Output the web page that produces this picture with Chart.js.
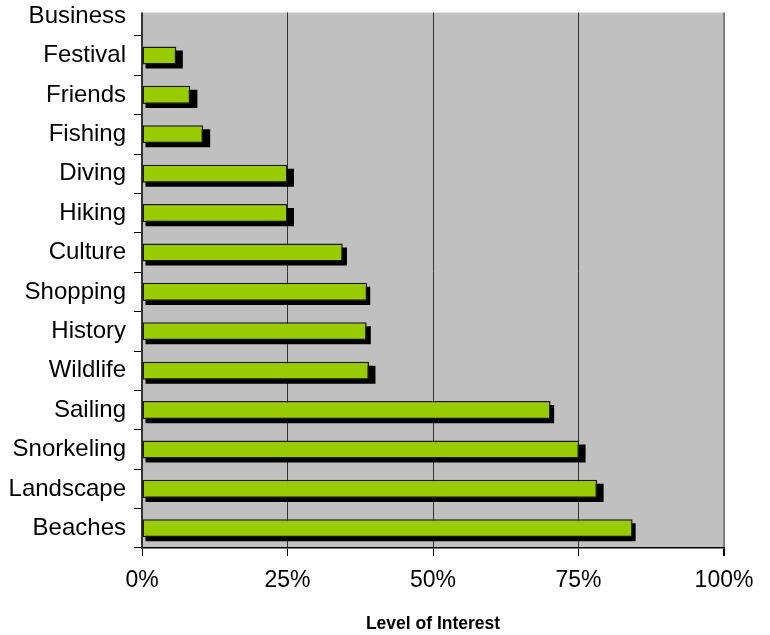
<!DOCTYPE html>
<html>
<head>
<meta charset="utf-8">
<script src="https://cdn.jsdelivr.net/npm/chart.js@4"></script>
<style>
  html, body { margin: 0; padding: 0; background: #ffffff; overflow: hidden; }
  #wrap { position: absolute; left: 0; top: -26px; width: 770px; height: 661px; }
</style>
</head>
<body>
<div id="wrap"><canvas id="chart" width="770" height="661"></canvas></div>
<script>
// categories top to bottom
const activities = ["Business", "Festival", "Friends", "Fishing", "Diving", "Hiking", "Culture",
  "Shopping", "History", "Wildlife", "Sailing", "Snorkeling", "Landscape", "Beaches"];

// level of interest (%)
const interest = [0, 5.9, 8.3, 10.5, 25, 25, 34.5, 38.7, 38.6, 39.0, 70.2, 75.1, 78.2, 84.3];
// black shadow bars behind
const shadowVals = [0, 6.5, 9.0, 11.2, 25.6, 25.6, 34.7, 38.7, 38.8, 39.6, 70.3, 75.7, 78.8, 84.3];

const xTicks = [0, 25, 50, 75, 100];

const FONT = "'Liberation Sans', Arial, sans-serif";
const HIDDEN_TOP = 16; // part of the plot cut off above the picture

// gray plot background
const plotBg = {
  id: "plotBg",
  beforeDraw(chart) {
    const { ctx, chartArea } = chart;
    ctx.save();
    ctx.fillStyle = "#c0c0c0";
    ctx.fillRect(chartArea.left, chartArea.top + HIDDEN_TOP, chartArea.right - chartArea.left, chartArea.bottom - chartArea.top - HIDDEN_TOP);
    ctx.restore();
  },
  afterDraw(chart) {
    const { ctx, chartArea } = chart;
    ctx.save();
    ctx.fillStyle = "#ffffff";
    ctx.fillRect(chartArea.left - 3, chartArea.top - 4, chartArea.right - chartArea.left + 6, HIDDEN_TOP + 4);
    ctx.restore();
  },
};

// shift the shadow dataset a few px right and down
const shadowShift = {
  id: "shadowShift",
  beforeDatasetDraw(chart, args) {
    if (args.index === 1) {
      chart.ctx.save();
      chart.ctx.translate(3, 4);
    }
  },
  afterDatasetDraw(chart, args) {
    if (args.index === 1) chart.ctx.restore();
  },
};

const ctx = document.getElementById("chart").getContext("2d");
new Chart(ctx, {
  type: "bar",
  data: {
    labels: activities,
    datasets: [
      {
        data: interest,
        backgroundColor: "#99cc00",
        borderColor: "#1a1a1a",
        borderWidth: 1.5,
        borderSkipped: false,
        barPercentage: 0.46,
        categoryPercentage: 1,
        grouped: false,
      },
      {
        data: shadowVals,
        backgroundColor: "#000000",
        borderWidth: 0,
        barPercentage: 0.46,
        categoryPercentage: 1,
        grouped: false,
      },
    ],
  },
  options: {
    indexAxis: "y",
    responsive: false,
    animation: false,
    layout: { padding: { top: 12, right: 46, left: 0, bottom: 0 } },
    plugins: {
      legend: { display: false },
      tooltip: { enabled: false },
    },
    scales: {
      x: {
        min: 0,
        max: 100,
        afterBuildTicks(scale) {
          scale.ticks = xTicks.map((v) => ({ value: v }));
        },
        afterFit(scale) {
          scale.height = 87;
        },
        ticks: {
          color: "#000000",
          font: { family: FONT, size: 23 },
          padding: 11,
          callback: (v) => v + "%",
        },
        grid: {
          color: (c) => (c.tick && c.tick.value === 100 ? "#808080" : "#333333"),
          lineWidth: (c) => (c.tick && c.tick.value === 100 ? 2 : 1),
          tickLength: 8,
          tickColor: "#000000",
        },
        border: { color: "#000000", width: 1.5 },
        title: {
          display: true,
          text: "Level of Interest",
          color: "#000000",
          font: { family: FONT, size: 17.5, weight: "bold" },
          padding: { top: 6, bottom: 0 },
        },
      },
      y: {
        afterFit(scale) {
          scale.width = 142;
        },
        ticks: {
          color: "#000000",
          font: { family: FONT, size: 24 },
          padding: 8,
          autoSkip: false,
        },
        grid: {
          drawOnChartArea: false,
          tickLength: 8,
          tickColor: "#000000",
        },
        border: { color: "#333333", width: 1.5 },
      },
    },
  },
  plugins: [plotBg, shadowShift],
});
</script>
</body>
</html>
